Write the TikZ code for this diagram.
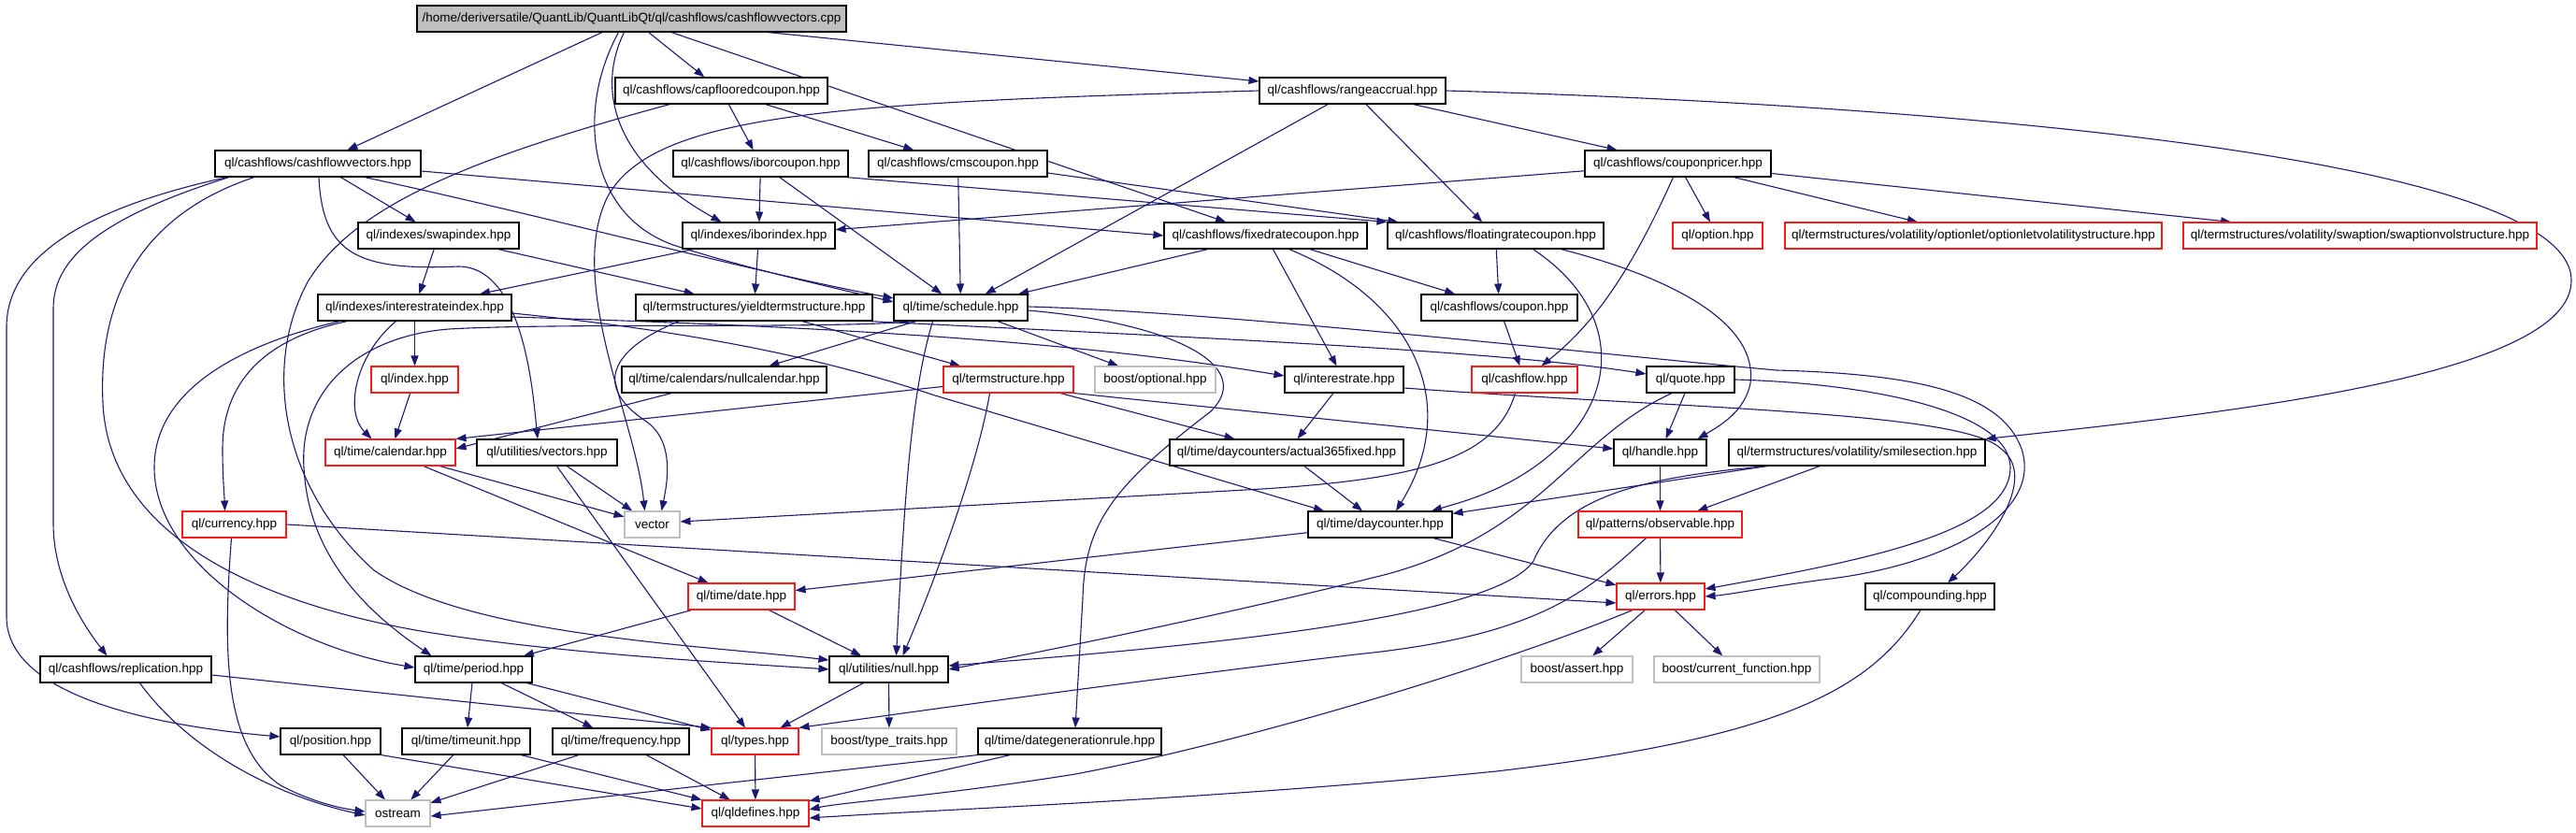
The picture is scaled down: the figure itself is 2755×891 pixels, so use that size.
\documentclass[tikz,border=0pt]{standalone}
\usepackage{fontspec}
\setmainfont{Liberation Sans}
\usetikzlibrary{arrows.meta}
\pgfdeclarelayer{bg}
\pgfsetlayers{bg,main}
\definecolor{edgecol}{HTML}{191970}
\definecolor{grayline}{HTML}{BFBFBF}
\definecolor{mainfill}{HTML}{BFBFBF}
\definecolor{redline}{HTML}{FF1A1A}
\tikzset{
  nd/.style={draw=black, line width=1.1pt, fill=white, rectangle, minimum height=28pt, inner sep=0pt, font=\fontsize{13.5}{15}\selectfont, text=black},
  rednd/.style={nd, draw=redline},
  graynd/.style={nd, draw=grayline},
  mainnd/.style={nd, fill=mainfill},
  edg/.style={draw=edgecol, line width=1.1pt, -{Triangle[length=11pt,width=8pt]}},
}
\begin{document}
\begin{tikzpicture}[x=1pt,y=-1pt]
\useasboundingbox (0,0) rectangle (2755,891);
% row 1
\node[mainnd, minimum width=459pt] (mainf) at (675.5,20) {/home/deriversatile/QuantLib/QuantLibQt/ql/cashflows/cashflowvectors.cpp};
% row 2
\node[nd, minimum width=227pt] (capf) at (771.5,97) {ql/cashflows/capflooredcoupon.hpp};
\node[nd, minimum width=199pt] (range) at (1446.5,97) {ql/cashflows/rangeaccrual.hpp};
% row 3
\node[nd, minimum width=220pt] (cfvh) at (340,175) {ql/cashflows/cashflowvectors.hpp};
\node[nd, minimum width=187pt] (iborc) at (813.5,175) {ql/cashflows/iborcoupon.hpp};
\node[nd, minimum width=191pt] (cms) at (1024.5,175) {ql/cashflows/cmscoupon.hpp};
\node[nd, minimum width=199pt] (pricer) at (1794.5,175) {ql/cashflows/couponpricer.hpp};
% row 4
\node[nd, minimum width=172pt] (swapidx) at (469,252) {ql/indexes/swapindex.hpp};
\node[nd, minimum width=163pt] (iboridx) at (811.5,252) {ql/indexes/iborindex.hpp};
\node[nd, minimum width=217pt] (fixed) at (1353.5,252) {ql/cashflows/fixedratecoupon.hpp};
\node[nd, minimum width=231pt] (floating) at (1599.5,252) {ql/cashflows/floatingratecoupon.hpp};
\node[rednd, minimum width=96pt] (option) at (1837,252) {ql/option.hpp};
\node[rednd, minimum width=403pt] (optvol) at (2110.5,252) {ql/termstructures/volatility/optionlet/optionletvolatilitystructure.hpp};
\node[rednd, minimum width=378pt] (swpvol) at (2524,252) {ql/termstructures/volatility/swaption/swaptionvolstructure.hpp};
% row 5
\node[nd, minimum width=207pt] (irindex) at (443.5,329) {ql/indexes/interestrateindex.hpp};
\node[nd, minimum width=253pt] (yts) at (806.5,329) {ql/termstructures/yieldtermstructure.hpp};
\node[nd, minimum width=143pt] (sched) at (1027.5,329) {ql/time/schedule.hpp};
\node[nd, minimum width=167pt] (coupon) at (1603.5,329) {ql/cashflows/coupon.hpp};
% row 6
\node[rednd, minimum width=93pt] (index) at (443.5,406) {ql/index.hpp};
\node[nd, minimum width=219pt] (nullcal) at (774.5,406) {ql/time/calendars/nullcalendar.hpp};
\node[rednd, minimum width=139pt] (tstruct) at (1078.5,406) {ql/termstructure.hpp};
\node[graynd, minimum width=129pt] (optional) at (1235.5,406) {boost/optional.hpp};
\node[nd, minimum width=127pt] (irate) at (1437.5,406) {ql/interestrate.hpp};
\node[rednd, minimum width=113pt] (cashflow) at (1630.5,406) {ql/cashflow.hpp};
\node[nd, minimum width=94pt] (quote) at (1808,406) {ql/quote.hpp};
% row 7
\node[rednd, minimum width=139pt] (calendar) at (417.5,484) {ql/time/calendar.hpp};
\node[nd, minimum width=150pt] (vectors) at (585,484) {ql/utilities/vectors.hpp};
\node[nd, minimum width=250pt] (act365) at (1376,484) {ql/time/daycounters/actual365fixed.hpp};
\node[nd, minimum width=99pt] (handle) at (1775.5,484) {ql/handle.hpp};
\node[nd, minimum width=274pt] (smile) at (1986,484) {ql/termstructures/volatility/smilesection.hpp};
% row 8
\node[rednd, minimum width=111pt] (currency) at (250.5,561) {ql/currency.hpp};
\node[graynd, minimum width=59pt] (vector) at (697.5,561) {vector};
\node[nd, minimum width=154pt] (daycounter) at (1476,561) {ql/time/daycounter.hpp};
\node[rednd, minimum width=175pt] (observable) at (1775.5,561) {ql/patterns/observable.hpp};
% row 9
\node[rednd, minimum width=114pt] (date) at (793,638) {ql/time/date.hpp};
\node[rednd, minimum width=94pt] (errors) at (1776,638) {ql/errors.hpp};
\node[nd, minimum width=138pt] (compounding) at (2064,638) {ql/compounding.hpp};
% row 10
\node[nd, minimum width=183pt] (replication) at (134.5,716) {ql/cashflows/replication.hpp};
\node[nd, minimum width=125pt] (period) at (506.5,716) {ql/time/period.hpp};
\node[nd, minimum width=127pt] (null) at (950.5,716) {ql/utilities/null.hpp};
\node[graynd, minimum width=119pt] (bassert) at (1686.5,716) {boost/assert.hpp};
\node[graynd, minimum width=177pt] (bcurfn) at (1857.5,716) {boost/current\_function.hpp};
% row 11
\node[nd, minimum width=107pt] (position) at (353.5,793) {ql/position.hpp};
\node[nd, minimum width=137pt] (timeunit) at (498.5,793) {ql/time/timeunit.hpp};
\node[nd, minimum width=146pt] (frequency) at (664,793) {ql/time/frequency.hpp};
\node[rednd, minimum width=93pt] (types) at (807.5,793) {ql/types.hpp};
\node[graynd, minimum width=144pt] (typetraits) at (951,793) {boost/type\_traits.hpp};
\node[nd, minimum width=196pt] (dgr) at (1144,793) {ql/time/dategenerationrule.hpp};
% row 12
\node[graynd, minimum width=69pt] (ostream) at (425.5,870) {ostream};
\node[rednd, minimum width=114pt] (qldefines) at (808,870) {ql/qldefines.hpp};

\begin{pgfonlayer}{bg}
% main file
\draw[edg] (mainf) -- (cfvh);
\draw[edg] (mainf) -- (capf);
\draw[edg] (mainf) -- (range);
\draw[edg] (mainf) -- (fixed);
\draw[edg] ([xshift=-8pt]mainf.south) .. controls (640,90) and (650,170) .. ([xshift=-40pt]iboridx.north);
\draw[edg] ([xshift=-14pt]mainf.south) .. controls (615,120) and (630,230) .. (720,262) .. controls (790,285) and (880,305) .. ([yshift=6pt]sched.west);
% cashflowvectors.hpp
\draw[edg] (cfvh) -- (swapidx);
\draw[edg] ([yshift=-8pt]cfvh.east) -- (fixed.west);
\draw[edg] ([xshift=50pt]cfvh.south) .. controls (600,235) and (800,290) .. ([yshift=10pt]sched.west);
\draw[edg] ([xshift=1pt]cfvh.south) .. controls (345,270) and (380,290) .. (490,285) .. controls (560,285) and (570,420) .. ([xshift=-10pt]vectors.north);
\draw[edg] ([xshift=-97pt]cfvh.south) .. controls (80,225) and (7,280) .. (7,350) -- (7,660) .. controls (7,740) and (150,775) .. ([yshift=5pt]position.west);
\draw[edg] ([xshift=-95pt]cfvh.south) .. controls (100,235) and (57,280) .. (57,330) -- (57,560) .. controls (57,620) and (90,670) .. ([xshift=-20pt]replication.north);
\draw[edg] ([xshift=-68pt]cfvh.south) .. controls (150,230) and (105,320) .. (110,430) .. controls (115,560) and (250,640) .. (450,675) .. controls (600,700) and (800,710) .. (null.west);
% capfloored
\draw[edg] (capf) -- (iborc);
\draw[edg] (capf) -- (cms);
\draw[edg] ([xshift=-55pt]capf.south) .. controls (500,170) and (380,220) .. (330,300) .. controls (280,390) and (300,520) .. (400,610) .. controls (500,680) and (750,690) .. ([yshift=10pt]null.west);
% rangeaccrual
\draw[edg] (range) -- (pricer);
\draw[edg] (range) -- (floating);
\draw[edg] (range) -- (sched);
\draw[edg] (range.west) .. controls (900,110) and (700,120) .. (650,210) .. controls (605,300) and (680,450) .. ([xshift=-8pt]vector.north);
\draw[edg] (range.east) .. controls (2000,110) and (2750,160) .. (2750,300) .. controls (2750,400) and (2400,440) .. (smile.north east);
% iborcoupon, cmscoupon
\draw[edg] (iborc) -- (iboridx);
\draw[edg] (iborc) -- (sched);
\draw[edg] ([xshift=-3pt]iborc.south east) -- (floating.north west);
\draw[edg] (cms) -- (sched);
\draw[edg] ([yshift=-10pt]cms.east) -- ([xshift=12pt]floating.north west);
% couponpricer
\draw[edg] (pricer) -- (iboridx);
\draw[edg] (pricer) -- (option);
\draw[edg] (pricer) -- (optvol);
\draw[edg] (pricer) -- (swpvol);
\draw[edg] ([xshift=-5pt]pricer.south) .. controls (1740,300) and (1700,350) .. ([xshift=18pt]cashflow.north);
% indexes
\draw[edg] (swapidx) -- (irindex);
\draw[edg] (swapidx) -- (yts);
\draw[edg] (iboridx) -- (irindex);
\draw[edg] (iboridx) -- (yts);
% fixed / floating
\draw[edg] (fixed) -- (sched);
\draw[edg] (fixed) -- (coupon);
\draw[edg] (fixed) -- (irate);
\draw[edg] ([xshift=25pt]fixed.south) .. controls (1510,320) and (1565,430) .. ([xshift=17pt]daycounter.north);
\draw[edg] (floating) -- (coupon);
\draw[edg] ([xshift=40pt]floating.south) .. controls (1720,320) and (1735,400) .. (1680,465) .. controls (1630,520) and (1570,535) .. ([xshift=55pt]daycounter.north);
\draw[edg] ([xshift=70pt]floating.south) .. controls (1800,300) and (1880,350) .. (1872,410) .. controls (1866,440) and (1840,455) .. ([xshift=40pt]handle.north);
% interestrateindex
\draw[edg] (irindex) -- (index);
\draw[edg] ([yshift=-6pt]irindex.east) .. controls (800,360) and (930,400) .. (1000,423) -- ([xshift=-60pt]daycounter.north);
\draw[edg] ([yshift=-10pt]irindex.east) .. controls (900,350) and (1150,365) .. ([yshift=4pt]irate.west);
\draw[edg] ([xshift=-80pt]irindex.south) .. controls (250,370) and (165,420) .. (165,500) .. controls (165,600) and (300,690) .. ([yshift=2pt]period.west);
\draw[edg] ([xshift=-72pt]irindex.south) .. controls (270,365) and (238,420) .. (238,480) .. controls (238,510) and (240,530) .. ([xshift=-10pt]currency.north);
\draw[edg] ([xshift=-20pt]irindex.south) .. controls (380,380) and (368,440) .. ([xshift=-20pt]calendar.north);
% yieldtermstructure
\draw[edg] (yts) -- (tstruct);
\draw[edg] ([xshift=-5pt]yts.south east) .. controls (1300,362) and (1600,375) .. ([yshift=6pt]quote.west);
\draw[edg] ([xshift=-80pt]yts.south) .. controls (660,370) and (630,410) .. (690,450) .. controls (720,470) and (715,510) .. ([xshift=10pt]vector.north);
% schedule
\draw[edg] (sched) -- (nullcal);
\draw[edg] (sched) -- (optional);
\draw[edg] ([xshift=-30pt]sched.south) .. controls (975,420) and (968,520) .. ([xshift=8pt]null.north);
\draw[edg] ([xshift=-50pt]sched.south) .. controls (900,352) and (600,345) .. (480,352) .. controls (380,360) and (320,420) .. (325,500) .. controls (330,600) and (400,660) .. ([xshift=-45pt]period.north);
\draw[edg] ([yshift=-3pt]sched.east) .. controls (1250,345) and (1345,390) .. (1295,440) .. controls (1190,520) and (1160,560) .. (1158,640) -- ([xshift=6pt]dgr.north);
\draw[edg] ([yshift=1pt]sched.east) .. controls (1300,333) and (1700,378) .. (1900,396) .. controls (2050,400) and (2140,420) .. (2162,480) .. controls (2185,550) and (2080,605) .. (1950,620) .. controls (1890,628) and (1850,636) .. (errors.east);
% middle rows
\draw[edg] (coupon) -- (cashflow);
\draw[edg] (index) -- (calendar);
\draw[edg] (nullcal) -- ([yshift=4pt]calendar.east);
\draw[edg] (tstruct) -- (calendar.north east);
\draw[edg] ([xshift=-20pt]tstruct.south) .. controls (1045,500) and (1000,620) .. ([xshift=15pt]null.north);
\draw[edg] (tstruct.south east) -- ([yshift=4pt]handle.west);
\draw[edg] (tstruct) -- (act365);
\draw[edg] (irate) -- (act365);
\draw[edg] ([yshift=-9pt]irate.east) .. controls (1800,437) and (2100,440) .. (2140,480) .. controls (2180,510) and (2130,580) .. ([xshift=19pt]compounding.north);
\draw[edg] (quote) -- (handle);
\draw[edg] ([xshift=-20pt]quote.south) .. controls (1680,470) and (1650,570) .. (1480,615) .. controls (1300,660) and (1100,700) .. (null.east);
\draw[edg] (quote.east) .. controls (2000,410) and (2150,440) .. (2150,500) .. controls (2150,570) and (1990,600) .. ([yshift=8pt]errors.east);
\draw[edg] ([xshift=-10pt]cashflow.south) .. controls (1600,490) and (1520,512) .. (1350,523) -- ([yshift=3pt]vector.east);
\draw[edg] (smile) -- (daycounter);
\draw[edg] (smile) -- (observable);
\draw[edg] ([xshift=-95pt]smile.south) .. controls (1760,510) and (1670,530) .. (1640,600) .. controls (1600,660) and (1300,690) .. ([yshift=4pt]null.east);
\draw[edg] (handle) -- (observable);
\draw[edg] (observable) -- (errors);
\draw[edg] ([xshift=-15pt]observable.south) .. controls (1700,630) and (1650,680) .. (1450,700) .. controls (1200,730) and (950,765) .. (types.north east);
\draw[edg] (act365) -- (daycounter);
\draw[edg] (daycounter) -- (date);
\draw[edg] (daycounter) -- (errors);
\draw[edg] (calendar) -- (vector);
\draw[edg] (calendar) -- (date);
\draw[edg] (vectors) -- (vector);
\draw[edg] (vectors) -- (types);
\draw[edg] (currency.east) -- ([yshift=-7pt]errors.west);
\draw[edg] ([xshift=-3pt]currency.south) .. controls (238,700) and (240,800) .. (300,840) .. controls (330,856) and (360,864) .. ([yshift=2pt]ostream.west);
% lower rows
\draw[edg] (date) -- (period);
\draw[edg] (date) -- (null);
\draw[edg] (errors) -- (bassert);
\draw[edg] (errors) -- (bcurfn);
\draw[edg] ([xshift=-30pt]errors.south) .. controls (1620,705) and (1350,790) .. (1150,828) .. controls (1000,852) and (900,858) .. ([yshift=4pt]qldefines.east);
\draw[edg] ([xshift=-10pt]compounding.south) .. controls (2000,740) and (1900,790) .. (1600,825) .. controls (1300,855) and (1000,866) .. ([yshift=-5pt]qldefines.east);
\draw[edg] ([xshift=15pt]replication.south) .. controls (200,800) and (290,850) .. ([yshift=-2pt]ostream.west);
\draw[edg] ([yshift=-6pt]replication.east) -- (types.north west);
\draw[edg] (period) -- (timeunit);
\draw[edg] (period) -- (frequency);
\draw[edg] (period) -- (types);
\draw[edg] (null) -- (types);
\draw[edg] (null) -- (typetraits);
\draw[edg] (position) -- (ostream);
\draw[edg] (position.south east) -- ([yshift=5pt]qldefines.west);
\draw[edg] (timeunit) -- (ostream);
\draw[edg] (timeunit) -- (qldefines.north west);
\draw[edg] (frequency) -- (ostream);
\draw[edg] (frequency) -- (qldefines);
\draw[edg] (types) -- (qldefines);
\draw[edg] (dgr) -- (qldefines);
\draw[edg] (dgr.south west) -- ([yshift=-3pt]ostream.east);
\end{pgfonlayer}
\end{tikzpicture}
\end{document}
